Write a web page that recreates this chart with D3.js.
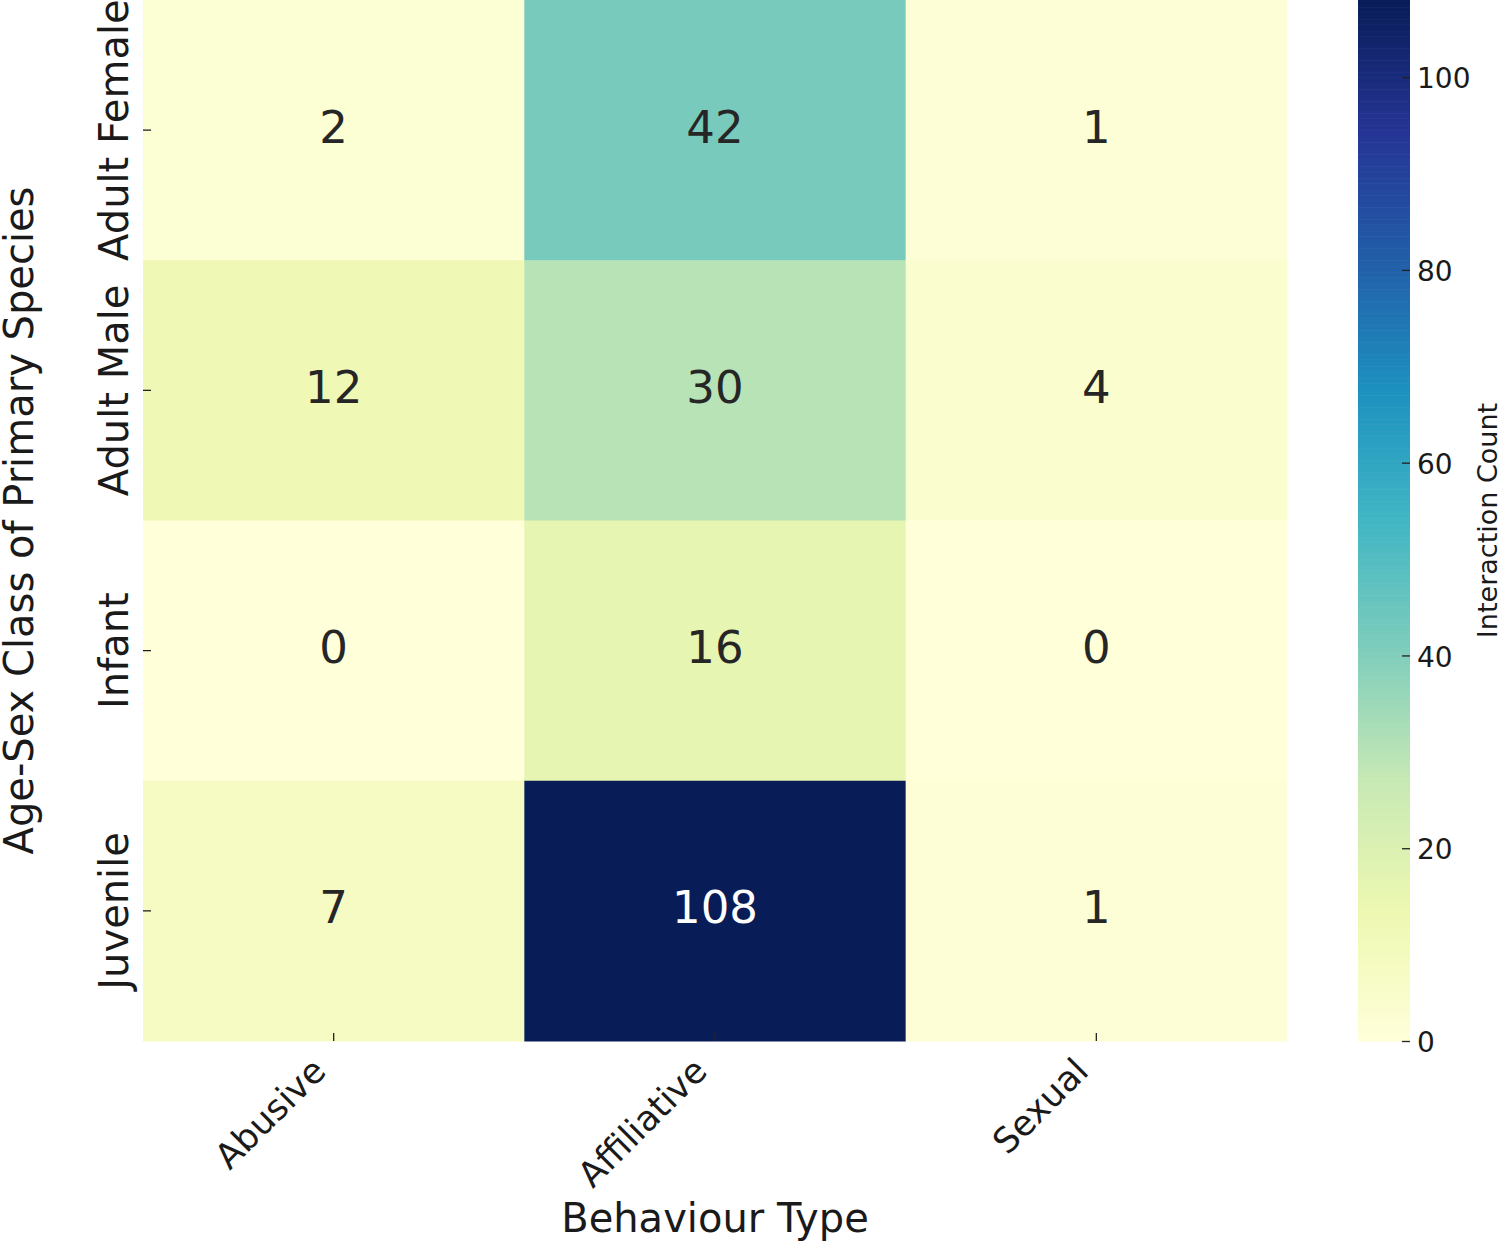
<!DOCTYPE html>
<html>
<head>
<meta charset="utf-8">
<script src="https://cdn.jsdelivr.net/npm/d3@7"></script>
<style>
  body { margin: 0; background: #fff; }
  text { font-family: "DejaVu Sans", sans-serif; }
</style>
</head>
<body>
<div id="chart"></div>
<script>
// data
var rows = ["Adult Female", "Adult Male", "Infant", "Juvenile"];
var cols = ["Abusive", "Affiliative", "Sexual"];
var abusive = [2, 12, 0, 7];
var affiliative = [42, 30, 16, 108];
var sexual = [1, 4, 0, 1];
var cbTicks = [0, 20, 40, 60, 80, 100];
var vmax = 108;

// matplotlib YlGnBu anchor colours
var ylgnbu = ["#ffffd9", "#edf8b1", "#c7e9b4", "#7fcdbb", "#41b6c4",
              "#1d91c0", "#225ea8", "#253494", "#081d58"];

var W = 1500, H = 1241;
var heat = { left: 143, right: 1287, top: 0, bottom: 1041 };
var cbar = { left: 1358, right: 1410 };

var svg = d3.select("#chart")
  .append("svg")
  .attr("width", W)
  .attr("height", H);

var x = d3.scaleBand().domain(cols).range([heat.left, heat.right]);
var y = d3.scaleBand().domain(rows).range([heat.top, heat.bottom]);

var color = d3.scaleLinear()
  .domain(ylgnbu.map(function (d, i) { return i / (ylgnbu.length - 1) * vmax; }))
  .range(ylgnbu)
  .interpolate(d3.interpolateRgb)
  .clamp(true);

// build cell table
var series = { "Abusive": abusive, "Affiliative": affiliative, "Sexual": sexual };
var cells = [];
cols.forEach(function (c) {
  rows.forEach(function (r, i) {
    cells.push({ col: c, row: r, value: series[c][i] });
  });
});

function textColor(v) {
  var c = d3.rgb(color(v));
  var ch = [c.r, c.g, c.b].map(function (u) {
    u = u / 255;
    return u <= 0.03928 ? u / 12.92 : Math.pow((u + 0.055) / 1.055, 2.4);
  });
  var lum = 0.2126 * ch[0] + 0.7152 * ch[1] + 0.0722 * ch[2];
  return lum > 0.408 ? "#262626" : "#ffffff";
}

svg.append("g")
  .selectAll("rect")
  .data(cells)
  .enter()
  .append("rect")
  .attr("x", function (d) { return x(d.col); })
  .attr("y", function (d) { return y(d.row); })
  .attr("width", x.bandwidth() + 0.5)
  .attr("height", y.bandwidth() + 0.5)
  .attr("fill", function (d) { return color(d.value); });

svg.append("g")
  .selectAll("text")
  .data(cells)
  .enter()
  .append("text")
  .attr("x", function (d) { return x(d.col) + x.bandwidth() / 2; })
  .attr("y", function (d) { return y(d.row) + y.bandwidth() / 2; })
  .attr("dy", "0.28em")
  .attr("text-anchor", "middle")
  .style("font-size", "45px")
  .attr("fill", function (d) { return textColor(d.value); })
  .text(function (d) { return d.value; });

// Y axis
var yAxis = svg.append("g")
  .attr("transform", "translate(" + heat.left + ",0)")
  .call(d3.axisLeft(y).tickSize(-8));
yAxis.select(".domain").remove();
yAxis.selectAll("line").attr("stroke", "#222").attr("stroke-width", 1.3);
yAxis.selectAll("text")
  .attr("x", 0).attr("y", 0).attr("dy", 0)
  .attr("transform", "translate(-15,0) rotate(-90)")
  .attr("text-anchor", "middle")
  .attr("fill", "#1a1a1a")
  .style("font-size", "40px");

// X axis
var xAxis = svg.append("g")
  .attr("transform", "translate(0," + heat.bottom + ")")
  .call(d3.axisBottom(x).tickSize(-8));
xAxis.select(".domain").remove();
xAxis.selectAll("line").attr("stroke", "#222").attr("stroke-width", 1.3);
xAxis.selectAll("text")
  .attr("x", 0).attr("y", 0).attr("dy", 0)
  .attr("transform", "translate(-6,32) rotate(-45)")
  .attr("text-anchor", "end")
  .attr("fill", "#1a1a1a")
  .style("font-size", "35px");

// axis titles
svg.append("text")
  .attr("transform", "translate(33," + (heat.top + heat.bottom) / 2 + ") rotate(-90)")
  .attr("text-anchor", "middle")
  .attr("fill", "#1a1a1a")
  .style("font-size", "40px")
  .text("Age-Sex Class of Primary Species");

svg.append("text")
  .attr("x", (heat.left + heat.right) / 2)
  .attr("y", 1232)
  .attr("text-anchor", "middle")
  .attr("fill", "#1a1a1a")
  .style("font-size", "40px")
  .text("Behaviour Type");

// colour bar
var cy = d3.scaleLinear().domain([0, vmax]).range([heat.bottom, heat.top]);
var steps = d3.range(0, vmax, 0.25);
svg.append("g")
  .selectAll("rect")
  .data(steps)
  .enter()
  .append("rect")
  .attr("x", cbar.left)
  .attr("width", cbar.right - cbar.left)
  .attr("y", function (d) { return cy(d + 0.25); })
  .attr("height", function (d) { return cy(d) - cy(d + 0.25) + 0.6; })
  .attr("fill", function (d) { return color(d + 0.125); });

var cAxis = svg.append("g")
  .attr("transform", "translate(" + cbar.right + ",0)")
  .call(d3.axisRight(cy).tickValues(cbTicks).tickSize(-8));
cAxis.select(".domain").remove();
cAxis.selectAll("line").attr("stroke", "#222").attr("stroke-width", 1.3);
cAxis.selectAll("text")
  .attr("x", 7)
  .attr("dy", "0.38em")
  .attr("fill", "#1a1a1a")
  .style("font-size", "28px");

svg.append("text")
  .attr("transform", "translate(1497," + (heat.top + heat.bottom) / 2 + ") rotate(-90)")
  .attr("text-anchor", "middle")
  .attr("fill", "#1a1a1a")
  .style("font-size", "27px")
  .text("Interaction Count");
</script>
</body>
</html>
